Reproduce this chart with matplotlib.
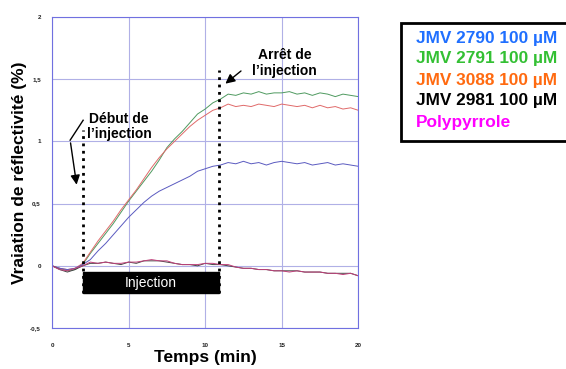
import matplotlib
matplotlib.use("Agg")
import matplotlib.pyplot as plt
from matplotlib.patches import Rectangle

plt.rcParams['font.family'] = ['Liberation Sans', 'DejaVu Sans']

# time (min)
temps = [0, 0.5, 1, 1.5, 2, 2.5, 3, 3.5, 4, 4.5, 5, 5.5, 6, 6.5, 7, 7.5, 8, 8.5, 9, 9.5,
         10, 10.5, 11, 11.5, 12, 12.5, 13, 13.5, 14, 14.5, 15, 15.5, 16, 16.5, 17, 17.5,
         18, 18.5, 19, 19.5, 20]

jmv2791 = [0.00, -0.02, -0.04, -0.03, 0.01, 0.10, 0.18, 0.26, 0.34, 0.43, 0.52, 0.60, 0.68,
           0.76, 0.85, 0.95, 1.02, 1.08, 1.15, 1.22, 1.26, 1.31, 1.34, 1.38, 1.37, 1.39,
           1.38, 1.40, 1.38, 1.39, 1.39, 1.40, 1.38, 1.39, 1.37, 1.39, 1.38, 1.36, 1.38,
           1.37, 1.36]
jmv3088 = [0.00, -0.02, -0.03, -0.02, 0.02, 0.11, 0.20, 0.28, 0.36, 0.45, 0.53, 0.61, 0.70,
           0.79, 0.87, 0.94, 1.00, 1.06, 1.12, 1.17, 1.21, 1.25, 1.27, 1.30, 1.28, 1.29,
           1.28, 1.30, 1.29, 1.28, 1.30, 1.29, 1.28, 1.29, 1.27, 1.29, 1.27, 1.28, 1.26,
           1.27, 1.25]
jmv2790 = [0.00, -0.02, -0.03, -0.02, 0.01, 0.05, 0.12, 0.18, 0.25, 0.32, 0.39, 0.45, 0.51,
           0.56, 0.60, 0.63, 0.66, 0.69, 0.72, 0.76, 0.78, 0.80, 0.81, 0.83, 0.82, 0.84,
           0.82, 0.83, 0.81, 0.83, 0.84, 0.83, 0.82, 0.83, 0.81, 0.82, 0.83, 0.81, 0.82,
           0.81, 0.80]
jmv2981 = [0.00, -0.03, -0.05, -0.03, 0.00, 0.02, 0.02, 0.03, 0.02, 0.01, 0.03, 0.02, 0.04,
           0.04, 0.04, 0.03, 0.02, 0.01, 0.01, 0.00, 0.02, 0.01, 0.01, 0.00, -0.01, -0.02,
           -0.02, -0.03, -0.03, -0.04, -0.04, -0.04, -0.04, -0.05, -0.05, -0.05, -0.06,
           -0.06, -0.06, -0.06, -0.08]
polypyrrole = [0.00, -0.03, -0.04, -0.02, 0.00, 0.03, 0.02, 0.03, 0.02, 0.02, 0.03, 0.03,
               0.04, 0.05, 0.04, 0.04, 0.02, 0.01, 0.01, 0.01, 0.02, 0.02, 0.01, 0.01, -0.01,
               -0.02, -0.02, -0.03, -0.03, -0.04, -0.04, -0.05, -0.04, -0.05, -0.05, -0.05,
               -0.06, -0.06, -0.07, -0.06, -0.08]

t_debut = 2.0
t_arret = 10.9

legend_labels = ['JMV 2790 100 µM', 'JMV 2791 100 µM', 'JMV 3088 100 µM',
                 'JMV 2981 100 µM', 'Polypyrrole']
legend_colors = ['#1f6fff', '#33c033', '#ff6a10', 'black', '#ff00ff']

fig = plt.figure(figsize=(5.66, 3.69), dpi=100)
ax = fig.add_axes([0.092, 0.111, 0.541, 0.843])

ax.plot(temps, jmv2791, color='#4f9a60', lw=0.7)
ax.plot(temps, jmv3088, color='#e06a6a', lw=0.7)
ax.plot(temps, jmv2790, color='#5a5ac0', lw=0.7)
ax.plot(temps, jmv2981, color='#444444', lw=0.7)
ax.plot(temps, polypyrrole, color='#c0407a', lw=0.7)

ax.set_xlim(0, 20)
ax.set_ylim(-0.5, 2)
ax.set_xticks([0, 5, 10, 15, 20])
ax.set_yticks([-0.5, 0, 0.5, 1, 1.5, 2])
ax.set_yticklabels(['-0,5', '0', '0,5', '1', '1,5', '2'])
ax.tick_params(labelsize=4.5, labelcolor='#222222', length=0)
ax.tick_params(axis='x', pad=11)
ax.tick_params(axis='y', pad=8)
for lbl in ax.get_xticklabels() + ax.get_yticklabels():
    lbl.set_fontweight('bold')
ax.grid(True, color='#b0b0e6', lw=0.8)
for s in ax.spines.values():
    s.set_color('#7070e0')
    s.set_linewidth(0.8)

# injection bar
ax.add_patch(Rectangle((t_debut, -0.22), t_arret - t_debut, 0.17,
                       facecolor='black', edgecolor='black', zorder=5))
ax.text((t_debut + t_arret) / 2, -0.135, 'Injection', color='white', fontsize=10,
        ha='center', va='center', zorder=6)
ax.plot([t_debut, t_debut], [-0.22, 1.09], color='black', ls=':', lw=2, zorder=6)
ax.plot([t_arret, t_arret], [-0.22, 1.57], color='black', ls=':', lw=2, zorder=6)

# annotations
ax.text(4.38, 1.12, 'Début de\nl\u2019injection', fontsize=10, fontweight='bold',
        ha='center', va='center', linespacing=1.1)
ax.plot([2.03, 1.18], [1.17, 1.01], color='black', lw=1)
ax.annotate('', xy=(1.63, 0.63), xytext=(1.18, 1.01),
            arrowprops=dict(arrowstyle='-|>', color='black', lw=1, mutation_scale=14))
ax.text(15.2, 1.63, 'Arrêt de\nl\u2019injection', fontsize=10, fontweight='bold',
        ha='center', va='center', linespacing=1.1)
ax.annotate('', xy=(11.18, 1.45), xytext=(12.48, 1.58),
            arrowprops=dict(arrowstyle='-|>', color='black', lw=1, mutation_scale=14))

ax.set_xlabel('Temps (min)', fontsize=12.5, fontweight='bold', labelpad=1)
ax.set_ylabel('Vraiation de réflectivité (%)', fontsize=12.5, fontweight='bold', labelpad=2)

# legend box
fig.patches.append(Rectangle((401 / 566, 1 - 141 / 369), 0.4, 118 / 369,
                             transform=fig.transFigure, facecolor='white',
                             edgecolor='black', lw=2, figure=fig))
for i, (lab, col) in enumerate(zip(legend_labels, legend_colors)):
    fig.text(416 / 566, 1 - (38 + 21 * i) / 369, lab, color=col, fontsize=12.4,
             fontweight='bold', ha='left', va='center')

fig.savefig('out.png', dpi=100)
